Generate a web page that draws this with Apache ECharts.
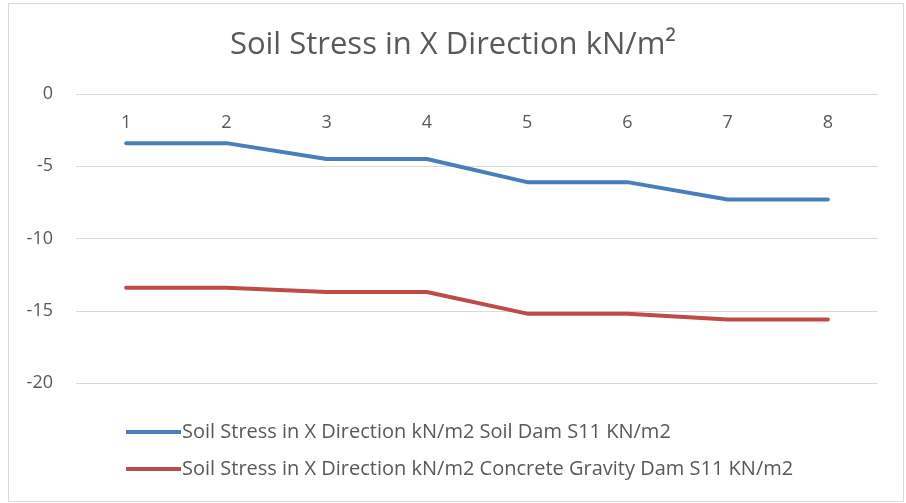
<!DOCTYPE html>
<html>
<head>
<meta charset="utf-8">
<title>Soil Stress in X Direction</title>
<script src="https://cdn.jsdelivr.net/npm/echarts@6/dist/echarts.min.js"></script>
<style>
    html, body {margin: 0; padding: 0; background: #fff;}
    #main {width: 906px; height: 503px;}
</style>
</head>
<body>
<div id="main"></div>
<script>
// 数据
const categories = ['1', '2', '3', '4', '5', '6', '7', '8'];
const soilDam = [-3.4, -3.4, -4.5, -4.5, -6.1, -6.1, -7.3, -7.3];
const concreteDam = [-13.4, -13.4, -13.7, -13.7, -15.2, -15.2, -15.6, -15.6];
const seriesNames = [
    'Soil Stress in X Direction kN/m2 Soil Dam S11 KN/m2',
    'Soil Stress in X Direction kN/m2 Concrete Gravity Dam S11 KN/m2'
];

const textColor = '#595959';
const fontName = 'Open Sans';

let chart = echarts.init(document.getElementById('main'));

chart.setOption({
    animation: false,
    title: {
        text: 'Soil Stress in X Direction kN/m²',
        left: 'center',
        top: 25,
        textStyle: {
            color: textColor,
            fontFamily: fontName,
            fontWeight: 'normal',
            fontSize: 31
        }
    },
    // 外框
    graphic: [{
        type: 'rect',
        shape: {x: 8.5, y: 3.5, width: 895, height: 498},
        style: {fill: 'none', stroke: '#d9d9d9', lineWidth: 1}
    }],
    legend: {
        orient: 'vertical',
        left: 126,
        top: 421,
        padding: 0,
        itemGap: 15,
        itemWidth: 55,
        itemHeight: 4,
        icon: 'rect',
        textStyle: {
            color: textColor,
            fontFamily: fontName,
            fontSize: 20,
            lineHeight: 22,
            padding: [0, 0, 0, -4]
        },
        data: seriesNames
    },
    grid: {
        left: 76,
        right: 28,
        top: 94,
        bottom: 120
    },
    xAxis: {
        type: 'category',
        position: 'top',
        data: categories,
        boundaryGap: true,
        axisLine: {show: false},
        axisTick: {show: false},
        axisLabel: {
            inside: true,
            margin: 20,
            color: textColor,
            fontFamily: fontName,
            fontSize: 18
        }
    },
    yAxis: {
        type: 'value',
        min: -20,
        max: 0,
        interval: 5,
        axisLine: {show: false},
        axisTick: {show: false},
        axisLabel: {
            margin: 23,
            color: textColor,
            fontFamily: fontName,
            fontSize: 18
        },
        splitLine: {
            lineStyle: {color: '#d9d9d9', width: 1}
        }
    },
    series: [
        {
            name: seriesNames[0],
            type: 'line',
            data: soilDam,
            showSymbol: false,
            symbol: 'none',
            lineStyle: {color: '#4a7ebb', width: 4, cap: 'round', join: 'round'},
            itemStyle: {color: '#4a7ebb'}
        },
        {
            name: seriesNames[1],
            type: 'line',
            data: concreteDam,
            showSymbol: false,
            symbol: 'none',
            lineStyle: {color: '#be4b48', width: 4, cap: 'round', join: 'round'},
            itemStyle: {color: '#be4b48'}
        }
    ]
});
</script>
</body>
</html>
